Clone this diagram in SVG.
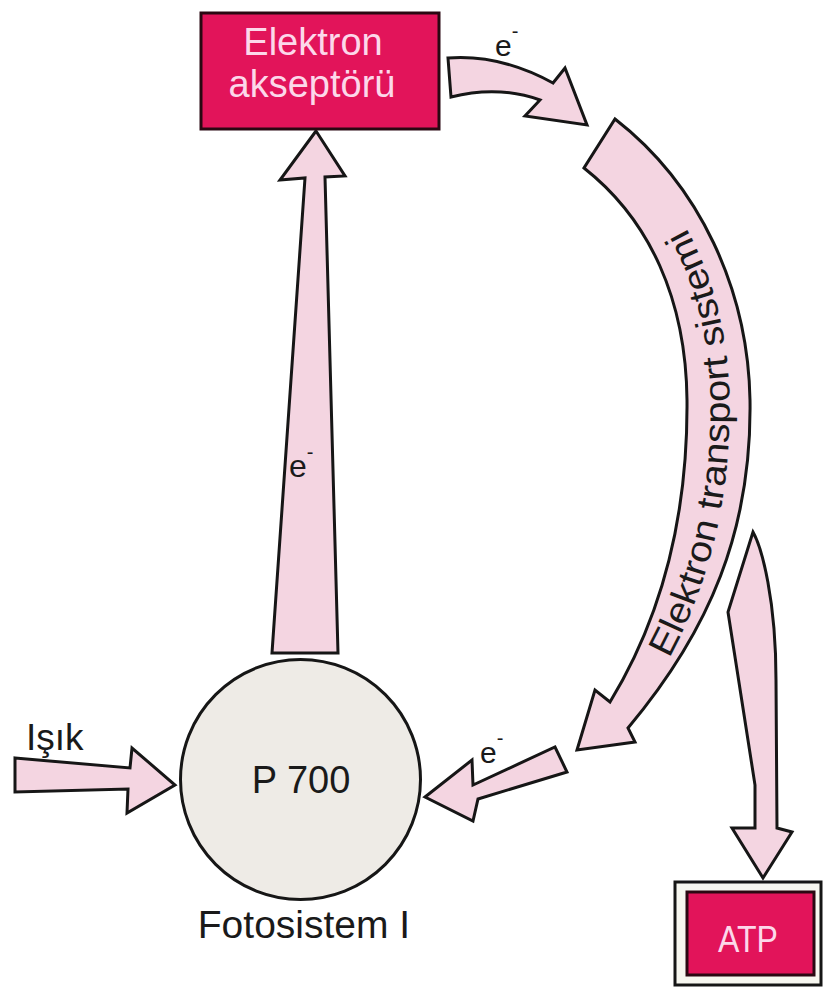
<svg xmlns="http://www.w3.org/2000/svg" xmlns:xlink="http://www.w3.org/1999/xlink" width="823" height="990" viewBox="0 0 823 990">
  <style>
    .arrow { fill: #f4d5e1; stroke: #161616; stroke-width: 3; stroke-linejoin: miter; }
    .redbox { fill: #e2145a; stroke: #2a0812; stroke-width: 3; }
    .boxtext { font-family: "Liberation Sans", Arial, sans-serif; fill: #fcd8ea; text-anchor: middle; }
    .label { font-family: "Liberation Sans", Arial, sans-serif; fill: #1a1a1a; }
  </style>
  <defs>
    <!-- baseline of the curved label along the transport arrow -->
    <path id="etsPath" d="M629,722 C696,630 731,527 729.5,400 C728,290 684,194 607,134"/>
  </defs>

  <rect width="823" height="990" fill="#ffffff"/>

  <!-- connectors -->
  <g id="connectors">
    <!-- P700 to electron acceptor -->
    <polygon class="arrow" points="316,131 345,176 325,177 338,653 272,653 305,178 280,180"/>
    <text class="label" x="289" y="477" font-size="32">e<tspan font-size="20" dy="-18">-</tspan></text>

    <!-- acceptor to transport chain -->
    <path class="arrow" d="M448,58 Q500,54 553,83 L565,68 L587,125 L525,116 L540,100 Q498,85 451,97 Z"/>
    <text class="label" x="495" y="56" font-size="30">e<tspan font-size="20" dy="-18">-</tspan></text>

    <!-- electron transport chain -->
    <path class="arrow" d="M615,119 C700,185 748,290 750,400 C752,530 710,630 628,728 L635,742 L577,750 L595,690 L610,702 C660,620 688,520 687,400 C686,300 650,220 584,168 Z"/>
    <text class="label" font-size="36"><textPath xlink:href="#etsPath" startOffset="75" textLength="448" lengthAdjust="spacingAndGlyphs">Elektron transport sistemi</textPath></text>

    <!-- branch to ATP -->
    <path class="arrow" d="M753,532 C762,548 776,600 776,680 L777,828 L792,832 L763,878 L732,828 L755,828 L755,785 L728,612 Z"/>

    <!-- return to P700 -->
    <polygon class="arrow" points="425,797 472,760 473,785 555,747 567,772 478,799 473,821"/>
    <text class="label" x="480" y="763" font-size="30">e<tspan font-size="20" dy="-18">-</tspan></text>

    <!-- light input -->
    <polygon class="arrow" points="15,758 130,768 132,748 175,785 127,813 128,789 15,792"/>
    <text class="label" x="26" y="750" font-size="37">Işık</text>
  </g>

  <!-- electron acceptor -->
  <g id="node-acceptor">
    <rect class="redbox" x="201" y="13" width="238" height="116"/>
    <text class="boxtext" x="313" y="55" font-size="38">Elektron</text>
    <text class="boxtext" x="312" y="97" font-size="38">akseptörü</text>
  </g>

  <!-- photosystem I reaction centre -->
  <g id="node-p700">
    <circle cx="300.5" cy="779.5" r="120" fill="#eeebe6" stroke="#161616" stroke-width="3"/>
    <text class="label" x="301" y="793" font-size="38" text-anchor="middle">P 700</text>
    <text class="label" x="304" y="938" font-size="39" text-anchor="middle">Fotosistem I</text>
  </g>

  <!-- ATP product -->
  <g id="node-atp">
    <rect x="675" y="882" width="146" height="103" fill="#f7f7f0" stroke="#161616" stroke-width="3"/>
    <rect class="redbox" x="687" y="892" width="127" height="83"/>
    <text class="boxtext" x="748" y="952" font-size="36" textLength="60" lengthAdjust="spacingAndGlyphs">ATP</text>
  </g>
</svg>
